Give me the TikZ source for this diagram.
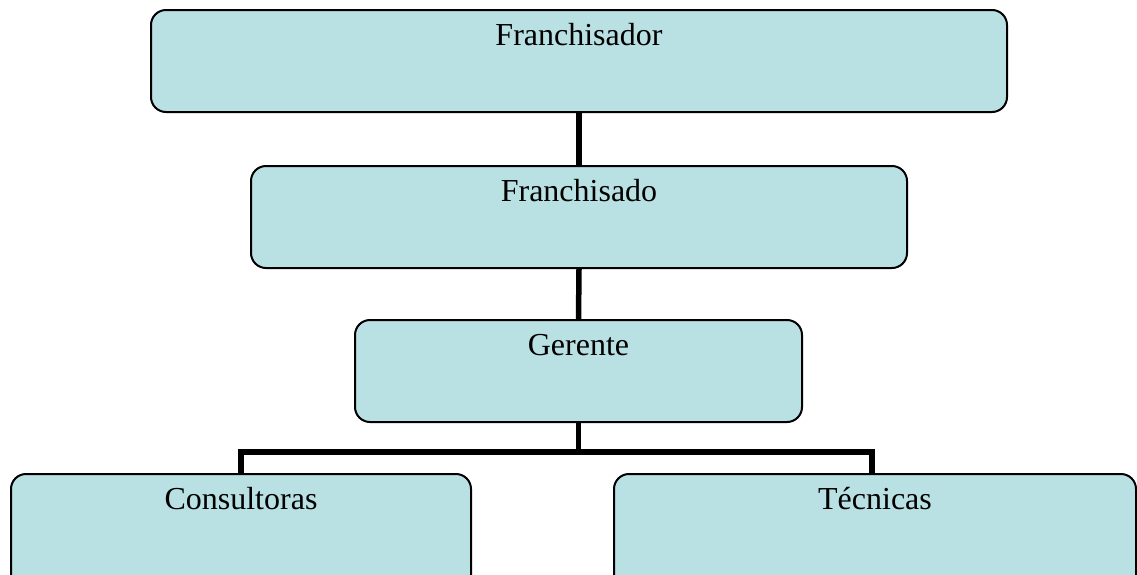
\documentclass[tikz,border=0pt]{standalone}
\usepackage{fontspec}
\setmainfont{Liberation Serif}
\definecolor{boxfill}{RGB}{185,224,227}
\begin{document}
\begin{tikzpicture}[x=1pt,y=-1pt,
  orgbox/.style={draw=black, line width=2pt, fill=boxfill, rounded corners=15pt,
    inner sep=0pt, anchor=north west},
  orgtext/.style={font=\fontsize{32}{38}\selectfont, anchor=base, inner sep=0pt},
  link/.style={line width=5.5pt}]
  \useasboundingbox (0,0) rectangle (1137,574);
  \clip (0,0) rectangle (1137,574);
  % boxes
  \node[orgbox, minimum width=856pt, minimum height=102pt] (fr) at (150,9) {};
  \node[orgbox, minimum width=656pt, minimum height=102pt] (fo) at (250,165) {};
  \node[orgbox, minimum width=447pt, minimum height=102pt] (ge) at (354,319) {};
  \node[orgbox, minimum width=460pt, minimum height=130pt] (co) at (10,473) {};
  \node[orgbox, minimum width=522pt, minimum height=130pt] (te) at (613,473) {};
  % labels
  \node[orgtext] (frt) at ([yshift=-36pt]fr.north) {Franchisador};
  \node[orgtext] (fot) at ([yshift=-36pt]fo.north) {Franchisado};
  \node[orgtext] (get) at ([yshift=-36pt]ge.north) {Gerente};
  \node[orgtext] (cot) at ([yshift=-36pt]co.north) {Consultoras};
  \node[orgtext] (tet) at ([yshift=-36pt]te.north) {Técnicas};
  % connectors
  \draw[link] (fr.south) -- (fo.north);
  \draw[link] (fo.south) -- (ge.north);
  \draw[link] (ge.south) -- ++(0,29) coordinate (j);
  \coordinate (tj) at (872,473);
  \draw[link] (co.north) |- (j) -| (tj);
\end{tikzpicture}
\end{document}
